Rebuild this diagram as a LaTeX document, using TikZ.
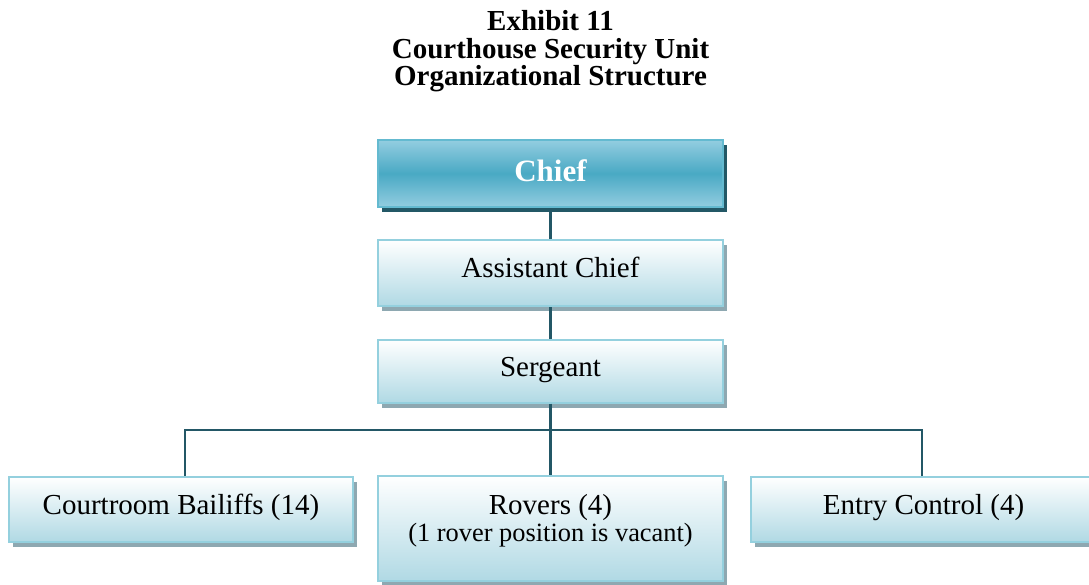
\documentclass[tikz,border=0pt]{standalone}
\usepackage{fontspec}
\setmainfont{Liberation Serif}
\usetikzlibrary{shadows}

\definecolor{linkcol}{HTML}{235766}
\definecolor{chiefshadow}{HTML}{235866}
\definecolor{chiefborder}{HTML}{64BAD0}
\definecolor{chieflight}{HTML}{93CDE0}
\definecolor{chiefdark}{HTML}{49A9C4}
\definecolor{boxborder}{HTML}{94D0DE}
\definecolor{boxbottom}{HTML}{B0D9E4}
\definecolor{boxshadow}{HTML}{8EA8B1}

\tikzset{
  unitbox/.style={rectangle, draw=boxborder, line width=2pt,
    top color=white, bottom color=boxbottom, inner sep=0pt,
    general shadow={fill=boxshadow, shadow xshift=4pt, shadow yshift=-5pt}},
  headbox/.style={rectangle, draw=chiefborder, line width=2pt,
    top color=chieflight, bottom color=chieflight, middle color=chiefdark,
    inner sep=0pt,
    general shadow={fill=chiefshadow, shadow xshift=4pt, shadow yshift=-5pt}},
  link/.style={draw=linkcol, line width=2.2pt},
  boxtext/.style={anchor=base, inner sep=0pt, font=\fontsize{29}{32}\selectfont},
  titletext/.style={anchor=base, inner sep=0pt, font=\fontsize{29}{32}\selectfont\bfseries},
}

\begin{document}
\begin{tikzpicture}[x=1pt, y=-1pt]
  \useasboundingbox (0,0) rectangle (1089,584);
  \clip (0,0) rectangle (1089,584);

  % heading
  \node[titletext] (t1) at (550.5,30.5) {Exhibit 11};
  \node[titletext] (t2) at (550.5,58) {Courthouse Security Unit};
  \node[titletext] (t3) at (550.5,85.5) {Organizational Structure};

  % boxes
  \node[headbox, minimum width=345pt, minimum height=67pt] (chief) at (550.5,173.5) {};
  \node[unitbox, minimum width=345pt, minimum height=66pt] (asst) at (550.5,273) {};
  \node[unitbox, minimum width=345pt, minimum height=63pt] (serg) at (550.5,371) {};
  \node[unitbox, minimum width=344pt, minimum height=65pt] (bail) at (181,509.5) {};
  \node[unitbox, minimum width=345pt, minimum height=105pt] (rov) at (550.5,528.5) {};
  \node[unitbox, minimum width=345pt, minimum height=65pt] (entry) at (923.5,509.5) {};

  % connectors
  \coordinate (bus) at (550.5,430);
  \draw[link] (chief.south) -- (asst.north);
  \draw[link] (asst.south) -- (serg.north);
  \draw[link] (serg.south) -- (rov.north);
  \draw[link] ([xshift=4pt]bail.north) |- (bus);
  \draw[link] ([xshift=-1.5pt]entry.north) |- (bus);

  % box labels
  \node[boxtext, text=white, font=\fontsize{31}{34}\selectfont\bfseries] (lchief) at (550.5,181) {Chief};
  \node[boxtext] (lasst) at (550.5,277) {Assistant Chief};
  \node[boxtext] (lserg) at (550.5,376) {Sergeant};
  \node[boxtext] (lbail) at (181,514) {Courtroom Bailiffs (14)};
  \node[boxtext] (lrov) at (550.5,514) {Rovers (4)};
  \node[boxtext, font=\fontsize{26.4}{30}\selectfont] (lrov2) at (550.5,541) {(1 rover position is vacant)};
  \node[boxtext] (lentry) at (923.5,514) {Entry Control (4)};
\end{tikzpicture}
\end{document}
